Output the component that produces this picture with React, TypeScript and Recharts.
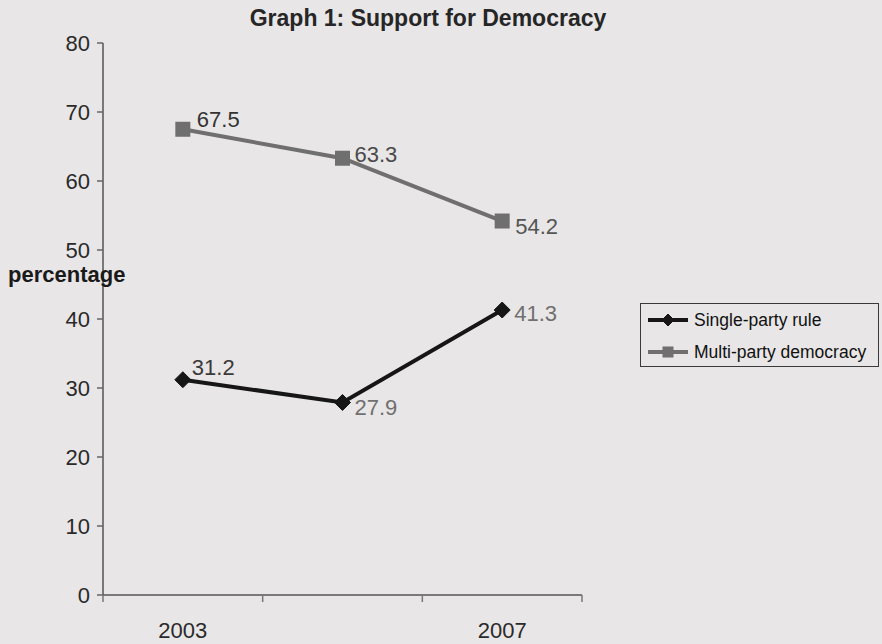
import React from "react";
import { LineChart, Line, XAxis, YAxis } from "recharts";

const years = ["2003", "2005", "2007"];
const singleParty = [31.2, 27.9, 41.3];
const multiParty = [67.5, 63.3, 54.2];
const yTicks = [0, 10, 20, 30, 40, 50, 60, 70, 80];
const seriesNames = ["Single-party rule", "Multi-party democracy"];
// category boundaries (tick marks) and the categories whose labels are shown
const xBoundaryTicks = [0, 1, 2, 3];
const xLabelTicks = [0.5, 2.5];

// label placement offsets (styling only)
const singleLabelOffsets = [
  { dx: 9, dy: -12, fill: "#3a3a3a" },
  { dx: 12, dy: 5, fill: "#707070" },
  { dx: 12, dy: 3, fill: "#707070" },
];
const multiLabelOffsets = [
  { dx: 14, dy: -10, fill: "#333333" },
  { dx: 12, dy: -4, fill: "#4a4a4a" },
  { dx: 13, dy: 5, fill: "#555555" },
];

const data = years.map((y, i) => ({
  year: y,
  pos: i + 0.5,
  single: singleParty[i],
  multi: multiParty[i],
}));

const FONT = "'Liberation Sans', Arial, sans-serif";
const SINGLE_COLOR = "#161616";
const MULTI_COLOR = "#6f6f6f";
const LEGEND_W = 239;

const Diamond = (props: any) => {
  const { cx, cy, fill, r = 7 } = props;
  if (cx == null || cy == null) return null;
  return (
    <polygon
      points={`${cx},${cy - r} ${cx + r},${cy} ${cx},${cy + r} ${cx - r},${cy}`}
      fill={fill}
      stroke={fill}
      strokeWidth={1}
    />
  );
};

const Square = (props: any) => {
  const { cx, cy, fill, s = 14 } = props;
  if (cx == null || cy == null) return null;
  return <rect x={cx - s / 2} y={cy - s / 2} width={s} height={s} fill={fill} />;
};

const XTick = (props: any) => {
  const { x, y, payload } = props;
  const v = payload.value as number;
  if (Number.isInteger(v)) {
    return <line x1={x} y1={y} x2={x} y2={y + 7} stroke="#777" strokeWidth={1.5} />;
  }
  return (
    <text
      x={x}
      y={y + 27}
      dy="0.71em"
      textAnchor="middle"
      fontSize={22}
      fontFamily={FONT}
      fill="#2a2a2a"
    >
      {years[Math.floor(v)]}
    </text>
  );
};

const makeLabel = (offsets: any[]) => (props: any) => {
  const { x, y, value, index } = props;
  const o = offsets[index] || { dx: 10, dy: 0, fill: "#333" };
  return (
    <text
      key={`lbl-${index}`}
      x={x + o.dx}
      y={y + o.dy}
      dy="0.35em"
      fill={o.fill}
      fontSize={22}
      fontFamily={FONT}
      textAnchor="start"
    >
      {value}
    </text>
  );
};

const LegendBox = () => (
  <div
    style={{
      position: "absolute",
      left: 640,
      top: 303,
      width: LEGEND_W,
      height: 64,
      border: "1px solid #3a3a3a",
      boxSizing: "border-box",
      fontFamily: FONT,
      fontSize: 17.5,
      color: "#111",
    }}
  >
    {seriesNames.map((name, i) => (
      <div
        key={name}
        style={{
          position: "absolute",
          left: 7,
          top: i === 0 ? 5 : 37,
          height: 22,
          display: "flex",
          alignItems: "center",
          whiteSpace: "nowrap",
        }}
      >
        <svg width={40} height={20} style={{ marginRight: 6 }}>
          <line
            x1={0}
            y1={10}
            x2={40}
            y2={10}
            stroke={i === 0 ? SINGLE_COLOR : MULTI_COLOR}
            strokeWidth={4}
          />
          {i === 0 ? (
            <Diamond cx={20} cy={10} r={6} fill={SINGLE_COLOR} />
          ) : (
            <Square cx={20} cy={10} s={11} fill={MULTI_COLOR} />
          )}
        </svg>
        <span>{name}</span>
      </div>
    ))}
  </div>
);

export default function App() {
  return (
    <div
      style={{
        position: "absolute",
        left: 0,
        top: 0,
        width: 882,
        height: 644,
        background: "#e8e6e6",
        overflow: "hidden",
      }}
    >
      <div
        style={{
          position: "absolute",
          left: 0,
          width: 856,
          top: 7,
          textAlign: "center",
          fontFamily: FONT,
          fontWeight: "bold",
          fontSize: 23,
          lineHeight: "22px",
          color: "#262626",
        }}
      >
        Graph 1: Support for Democracy
      </div>
      <div
        style={{
          position: "absolute",
          left: 8,
          top: 264,
          fontFamily: FONT,
          fontWeight: "bold",
          fontSize: 22,
          lineHeight: "22px",
          color: "#1a1a1a",
          zIndex: 2,
        }}
      >
        percentage
      </div>
      <LegendBox />
      <LineChart
        width={882}
        height={644}
        data={data}
        margin={{ top: 43, right: 300, bottom: 0, left: 0 }}
      >
        <XAxis
          dataKey="pos"
          type="number"
          domain={[0, 3]}
          ticks={[...xBoundaryTicks, ...xLabelTicks].sort((a, b) => a - b)}
          interval={0}
          tick={<XTick />}
          height={49}
          tickSize={0}
          tickMargin={0}
          tickLine={false}
          axisLine={{ stroke: "#555", strokeWidth: 1.5 }}
          allowDataOverflow
        />
        <YAxis
          type="number"
          domain={[0, 80]}
          ticks={yTicks}
          width={103}
          tickSize={6}
          tickMargin={7}
          axisLine={{ stroke: "#555", strokeWidth: 1.5 }}
          tickLine={{ stroke: "#666", strokeWidth: 1.5 }}
          tick={{ fontSize: 22, fontFamily: FONT, fill: "#2a2a2a" }}
          interval={0}
        />
        <Line
          name={seriesNames[1]}
          dataKey="multi"
          stroke={MULTI_COLOR}
          strokeWidth={4}
          isAnimationActive={false}
          dot={(p: any) => <Square key={`sq-${p.index}`} cx={p.cx} cy={p.cy} s={15} fill={MULTI_COLOR} />}
          activeDot={false}
          label={makeLabel(multiLabelOffsets)}
        />
        <Line
          name={seriesNames[0]}
          dataKey="single"
          stroke={SINGLE_COLOR}
          strokeWidth={4}
          isAnimationActive={false}
          dot={(p: any) => <Diamond key={`dm-${p.index}`} cx={p.cx} cy={p.cy} r={8} fill={SINGLE_COLOR} />}
          activeDot={false}
          label={makeLabel(singleLabelOffsets)}
        />
      </LineChart>
    </div>
  );
}
